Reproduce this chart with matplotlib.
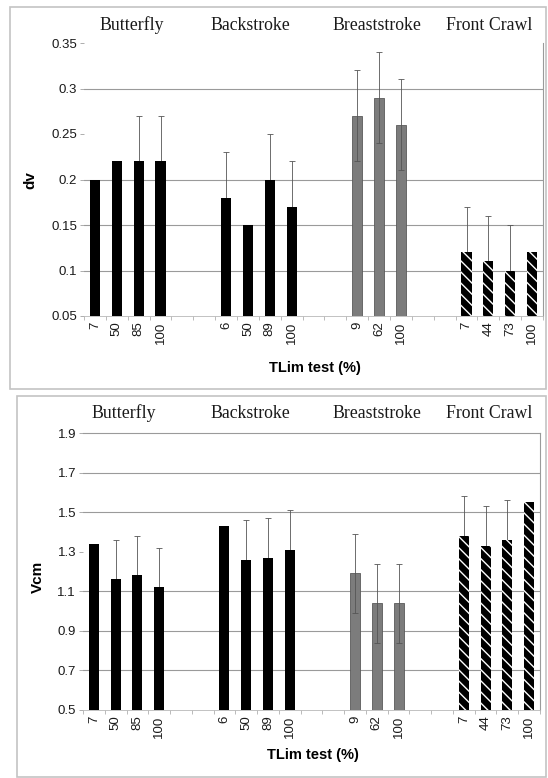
import numpy as np
import matplotlib
matplotlib.use('Agg')
import matplotlib.pyplot as plt
from matplotlib.patches import Rectangle
from matplotlib.ticker import FormatStrFormatter, FixedLocator

plt.rcParams['font.family'] = 'Liberation Sans'
plt.rcParams['hatch.linewidth'] = 1.0

# categories (% of TLim test)
strokes = ['Butterfly', 'Backstroke', 'Breaststroke', 'Front Crawl']
pct_butterfly = ['7', '50', '85', '100']
pct_backstroke = ['6', '50', '89', '100']
pct_breast = ['9', '62', '100']
pct_crawl = ['7', '44', '73', '100']

# dv (top panel)
dv_butterfly = [0.20, 0.22, 0.22, 0.22]
dv_backstroke = [0.18, 0.15, 0.20, 0.17]
dv_breast = [0.27, 0.29, 0.26]
dv_crawl = [0.12, 0.11, 0.10, 0.12]
dv_err_butterfly = [np.nan, np.nan, 0.05, 0.05]
dv_err_backstroke = [0.05, np.nan, 0.05, 0.05]
dv_err_breast = [0.05, 0.05, 0.05]
dv_err_crawl = [0.05, 0.05, 0.05, np.nan]

# Vcm (bottom panel)
vcm_butterfly = [1.34, 1.16, 1.18, 1.12]
vcm_backstroke = [1.43, 1.26, 1.27, 1.31]
vcm_breast = [1.19, 1.04, 1.04]
vcm_crawl = [1.38, 1.33, 1.36, 1.55]
vcm_err_butterfly = [np.nan, 0.2, 0.2, 0.2]
vcm_err_backstroke = [np.nan, 0.2, 0.2, 0.2]
vcm_err_breast = [0.2, 0.2, 0.2]
vcm_err_crawl = [0.2, 0.2, 0.2, np.nan]

W, H = 548, 778
fig = plt.figure(figsize=(W / 100, H / 100), dpi=100)

def px_ax(l, r, t, b):
    return fig.add_axes([l / W, 1 - b / H, (r - l) / W, (b - t) / H])

# outer chart frames
fig.patches.append(Rectangle((10 / W, 1 - 389 / H), 536 / W, 382 / H, transform=fig.transFigure,
                             fill=False, edgecolor='#c4c4c4', lw=1.2))
fig.patches.append(Rectangle((17 / W, 1 - 777 / H), 529 / W, 381 / H, transform=fig.transFigure,
                             fill=False, edgecolor='#c4c4c4', lw=1.2))

gap = 2
pct_groups = [pct_butterfly, pct_backstroke, pct_breast, pct_crawl]
slots = []
pos = 0
for g in pct_groups:
    slots.append(list(range(pos, pos + len(g))))
    pos += len(g) + gap
n_slots = pos - gap

styles = [dict(color='black'),
          dict(color='black'),
          dict(color='#7c7c7c', edgecolor='#5a5a5a', linewidth=0.6),
          dict(color='black', edgecolor='white', hatch='\\\\\\', linewidth=0)]
# error bars show through the grey bars only
err_z = [1.5, 1.5, 3, 1.5]


def panel(ax, values, errs, ylim, yticks, fmt, grid, top_spine):
    for xs, v, e, st, z in zip(slots, values, errs, styles, err_z):
        ax.bar(xs, v, width=0.46, bottom=0, zorder=2, **st)
        ax.errorbar(xs, v, yerr=e, fmt='none', ecolor='#555555', elinewidth=0.6,
                    capsize=2.5, capthick=0.6, zorder=z)
    ax.set_xlim(-0.5, n_slots - 0.5)
    ax.set_ylim(*ylim)
    ax.set_yticks(yticks)
    ax.yaxis.set_major_formatter(FormatStrFormatter(fmt))
    for g in grid:
        ax.axhline(g, color='#9a9a9a', lw=0.8, zorder=1)
    all_x = [x for xs in slots for x in xs]
    all_lab = [l for g in pct_groups for l in g]
    ax.set_xticks(all_x)
    ax.set_xticklabels(all_lab, rotation=90, fontsize=9.5, color='#1a1a1a')
    ax.xaxis.set_minor_locator(FixedLocator(np.arange(-0.5, n_slots, 1.0)))
    ax.tick_params(axis='x', which='major', length=0, pad=4)
    ax.tick_params(axis='x', which='minor', length=3, color='#b0b0b0', width=0.6)
    ax.tick_params(axis='y', length=3, color='#a0a0a0', width=0.6, labelsize=9.5,
                   labelcolor='#1a1a1a', pad=2)
    ax.spines['left'].set_visible(False)
    ax.spines['right'].set_color('#9a9a9a')
    ax.spines['right'].set_linewidth(0.8)
    ax.spines['bottom'].set_color('#b8b8b8')
    ax.spines['bottom'].set_linewidth(0.6)
    ax.spines['top'].set_visible(top_spine)
    ax.spines['top'].set_color('#9a9a9a')
    ax.spines['top'].set_linewidth(0.8)


ax1 = px_ax(84, 543, 43, 316)
panel(ax1, [dv_butterfly, dv_backstroke, dv_breast, dv_crawl],
      [dv_err_butterfly, dv_err_backstroke, dv_err_breast, dv_err_crawl],
      (0.05, 0.35), np.arange(0.05, 0.351, 0.05), '%g', [0.1, 0.15, 0.2, 0.3], False)
ax1.set_yticklabels(['0.05', '0.1', '0.15', '0.2', '0.25', '0.3', '0.35'])

ax2 = px_ax(83, 540, 433, 710)
panel(ax2, [vcm_butterfly, vcm_backstroke, vcm_breast, vcm_crawl],
      [vcm_err_butterfly, vcm_err_backstroke, vcm_err_breast, vcm_err_crawl],
      (0.5, 1.9), np.arange(0.5, 1.91, 0.2), '%.1f', [0.7, 0.9, 1.1, 1.5, 1.7], True)

# stroke titles
title_x_top = [131.7, 250, 376.5, 489]
title_x_bot = [123.5, 250, 376.5, 489]
for name, xt, xb in zip(strokes, title_x_top, title_x_bot):
    fig.text(xt / W, 1 - 25 / H, name, ha='center', va='center', fontsize=12.8,
             family='Liberation Serif', color='#1a1a1a')
    fig.text(xb / W, 1 - 413 / H, name, ha='center', va='center', fontsize=12.8,
             family='Liberation Serif', color='#1a1a1a')

# axis labels
fig.text(30 / W, 1 - 180 / H, 'dv', rotation=90, ha='center', va='center',
         fontsize=11, fontweight='bold')
fig.text(38 / W, 1 - 577 / H, 'Vcm', rotation=90, ha='center', va='center',
         fontsize=11, fontweight='bold')
fig.text(315 / W, 1 - 368 / H, 'TLim test (%)', ha='center', va='center',
         fontsize=10.5, fontweight='bold')
fig.text(313 / W, 1 - 755 / H, 'TLim test (%)', ha='center', va='center',
         fontsize=10.5, fontweight='bold')

fig.savefig('out.png', dpi=100)
